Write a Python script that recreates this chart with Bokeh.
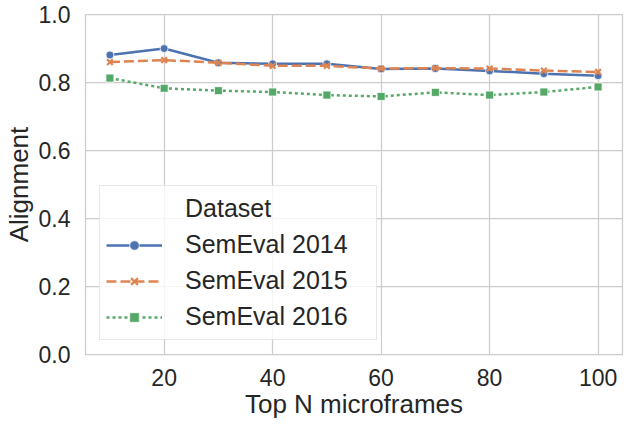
from bokeh.embed import file_html
from bokeh.resources import INLINE
import bokeh.plotting as bp
import bokeh.models as bm

# values
top_n = [10, 20, 30, 40, 50, 60, 70, 80, 90, 100]
semeval_2014 = [0.881, 0.900, 0.858, 0.855, 0.855, 0.840, 0.841, 0.834, 0.826, 0.820]
semeval_2015 = [0.860, 0.866, 0.858, 0.849, 0.849, 0.841, 0.842, 0.841, 0.835, 0.831]
semeval_2016 = [0.813, 0.783, 0.776, 0.772, 0.763, 0.759, 0.771, 0.763, 0.772, 0.787]
x_ticks = [20, 40, 60, 80, 100]
y_ticks = [0.0, 0.2, 0.4, 0.6, 0.8, 1.0]

FONT = "Liberation Sans"
TEXT = "#262626"
GRID = "#cccccc"

p = bp.figure(width=624, height=426,
	x_range=(5.5, 104.5), y_range=(0.0, 1.0),
	output_backend="svg", toolbar_location=None,
	min_border_left=80, min_border_right=2,
	min_border_top=14, min_border_bottom=72)

p.background_fill_color = "white"
p.outline_line_color = GRID
p.outline_line_width = 1.25

src = bp.ColumnDataSource(dict(n=top_n, a=semeval_2014, b=semeval_2015, c=semeval_2016))

l1 = p.line("n", "a", source=src, line_color="#4C72B0", line_width=2.5)
m1 = p.scatter("n", "a", source=src, marker="circle", size=8,
	fill_color="#4C72B0", line_color="white", line_width=0.8)

l2 = p.line("n", "b", source=src, line_color="#DD8452", line_width=2.5, line_dash="10 4")
m2 = p.scatter("n", "b", source=src, marker="x", size=8,
	line_color="#DD8452", line_width=2.2)

l3 = p.line("n", "c", source=src, line_color="#55A868", line_width=2.5, line_dash="3 3")
m3 = p.scatter("n", "c", source=src, marker="square", size=8,
	fill_color="#55A868", line_color="white", line_width=0.8)

legend = bm.Legend(items=[
	bm.LegendItem(label="Dataset", renderers=[]),
	bm.LegendItem(label="SemEval 2014", renderers=[l1, m1]),
	bm.LegendItem(label="SemEval 2015", renderers=[l2, m2]),
	bm.LegendItem(label="SemEval 2016", renderers=[l3, m3]),
])
legend.location = "bottom_left"
legend.margin = 14
legend.padding = 6
legend.spacing = 3
legend.label_height = 33
legend.glyph_height = 24
legend.glyph_width = 56
legend.label_standoff = 23
legend.label_width = 185
legend.label_text_font = FONT
legend.label_text_font_size = "25px"
legend.label_text_color = TEXT
legend.border_line_color = "#d0d0d0"
legend.border_line_width = 1.2
legend.background_fill_color = "white"
legend.background_fill_alpha = 0.8
p.add_layout(legend)

for ax in (p.xaxis, p.yaxis):
	ax.axis_line_color = None
	ax.major_tick_line_color = None
	ax.minor_tick_line_color = None
	ax.major_tick_out = 0
	ax.major_tick_in = 0
	ax.major_label_text_font = FONT
	ax.major_label_text_font_size = "23px"
	ax.major_label_text_color = TEXT
	ax.axis_label_text_font = FONT
	ax.axis_label_text_font_size = "26px"
	ax.axis_label_text_font_style = "normal"
	ax.axis_label_text_color = TEXT

p.xaxis.ticker = bm.FixedTicker(ticks=x_ticks)
p.yaxis.ticker = bm.FixedTicker(ticks=y_ticks)
p.yaxis.formatter = bm.NumeralTickFormatter(format="0.0")
p.xaxis.axis_label = "Top N microframes"
p.yaxis.axis_label = "Alignment"
p.xaxis.major_label_standoff = 14
p.yaxis.major_label_standoff = 15
p.xaxis.axis_label_standoff = 0
p.yaxis.axis_label_standoff = 2

p.xgrid.grid_line_color = GRID
p.ygrid.grid_line_color = GRID
p.xgrid.grid_line_width = 1.25
p.ygrid.grid_line_width = 1.25

open("out.html", "w").write(file_html(p, INLINE))
